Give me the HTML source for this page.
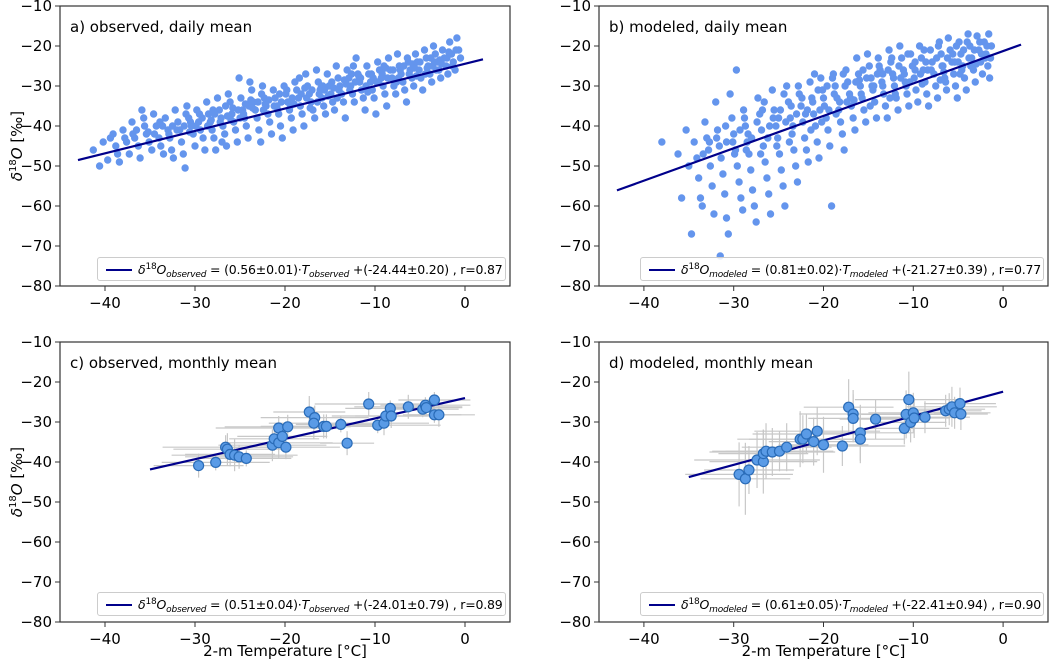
<!DOCTYPE html>
<html><head><meta charset="utf-8">
<style>
body{margin:0;background:#fff;width:1052px;height:663px;overflow:hidden;font-family:"DejaVu Sans","Liberation Sans",sans-serif}
#wrap{position:relative;width:1052px;height:663px}
svg{position:absolute;left:0;top:0;font-family:"DejaVu Sans","Liberation Sans",sans-serif}
.leg{position:absolute;height:24px;border:1px solid #ccc;border-radius:3px;background:rgba(255,255,255,0.85);font-size:12.5px;line-height:24px;white-space:nowrap;color:#000;box-sizing:border-box;padding-left:40px;font-family:"DejaVu Sans",sans-serif;letter-spacing:-0.2px}
.leg .ln{position:absolute;left:8px;top:11px;width:26px;height:2px;background:#00008b}
.leg i{font-family:"DejaVu Sans",sans-serif}
.leg sub{font-size:9px;font-style:italic;vertical-align:-3px;line-height:0}
.leg sup{font-size:9px;vertical-align:5px;line-height:0}
</style></head><body>
<div id="wrap">
<svg id="svg" width="1052" height="663"></svg>
<div class="leg" style="left:97px;top:257px;width:409px"><span class="ln"></span><i>δ</i><sup>18</sup><i>O</i><sub>observed</sub> = (0.56±0.01)·<i>T</i><sub>observed</sub> +(-24.44±0.20) , r=0.87</div>
<div class="leg" style="left:640px;top:257px;width:404px"><span class="ln"></span><i>δ</i><sup>18</sup><i>O</i><sub>modeled</sub> = (0.81±0.02)·<i>T</i><sub>modeled</sub> +(-21.27±0.39) , r=0.77</div>
<div class="leg" style="left:97px;top:592px;width:409px"><span class="ln"></span><i>δ</i><sup>18</sup><i>O</i><sub>observed</sub> = (0.51±0.04)·<i>T</i><sub>observed</sub> +(-24.01±0.79) , r=0.89</div>
<div class="leg" style="left:640px;top:592px;width:404px"><span class="ln"></span><i>δ</i><sup>18</sup><i>O</i><sub>modeled</sub> = (0.61±0.05)·<i>T</i><sub>modeled</sub> +(-22.41±0.94) , r=0.90</div>
</div>
<script>
const xTicks=[-40,-30,-20,-10,0];
const yTicks=[-10,-20,-30,-40,-50,-60,-70,-80];
const titles=["a) observed, daily mean","b) modeled, daily mean","c) observed, monthly mean","d) modeled, monthly mean"];
const fitSlope=[0.56,0.81,0.51,0.61];
const fitIntercept=[-24.44,-21.27,-24.01,-22.41];
const fitRangeDaily=[-43,2];
const fitRangeMonthly=[-35,0];
// daily observed [T, d18O]
const dailyObs=[[-41.3,-46],[-40.6,-50],[-40.2,-44],[-39.7,-48.5],[-39.1,-42],[-38.8,-45],[-38.4,-49],[-38,-41],[-37.6,-44],[-37.3,-47],[-37,-39],[-36.7,-43],[-36.3,-45],[-36.1,-48],[-35.9,-36],[-35.6,-40],[-35.4,-42],[-35.1,-44],[-34.8,-46],[-34.6,-37],[-34.3,-40],[-34,-43],[-33.8,-45],[-33.5,-47],[-33.3,-38],[-33,-41],[-32.8,-43],[-32.6,-46],[-32.4,-48],[-32.2,-36],[-31.9,-39],[-31.7,-41],[-31.5,-44],[-31.3,-47],[-31.1,-50.5],[-30.9,-35],[-30.7,-38],[-30.4,-40],[-30.2,-42],[-30,-45],[-29.8,-36],[-29.6,-39],[-29.4,-41],[-29.1,-43],[-28.9,-46],[-28.7,-34],[-28.5,-37],[-28.3,-39],[-28.1,-41],[-27.9,-43],[-27.7,-46],[-27.5,-33],[-27.3,-36],[-27.1,-38],[-26.9,-40],[-26.7,-42],[-26.5,-45],[-26.3,-32],[-26.1,-34],[-25.9,-37],[-25.7,-39],[-25.5,-41],[-25.3,-44],[-25.1,-28],[-24.9,-33],[-24.7,-36],[-24.5,-38],[-24.3,-40],[-24.1,-43],[-23.9,-29],[-23.7,-31],[-23.5,-34],[-23.3,-36],[-23.1,-38],[-22.9,-41],[-22.7,-44],[-22.5,-30],[-22.3,-33],[-22.1,-35],[-21.9,-37],[-21.7,-39],[-21.5,-42],[-21.3,-31],[-21.1,-33],[-20.9,-35],[-20.7,-37],[-20.5,-40],[-20.3,-43],[-20.1,-30],[-19.9,-32],[-19.7,-34],[-19.5,-36],[-19.3,-38],[-19.1,-41],[-18.9,-29],[-18.7,-31],[-18.5,-33],[-18.3,-35],[-18.1,-37],[-17.9,-40],[-17.7,-27],[-17.5,-30],[-17.3,-32],[-17.1,-34],[-16.9,-36],[-16.7,-38],[-16.5,-26],[-16.3,-29],[-16.1,-31],[-15.9,-33],[-15.7,-35],[-15.5,-37],[-15.3,-27],[-15.1,-30],[-14.9,-32],[-14.7,-34],[-14.5,-36],[-14.3,-25],[-14.1,-28],[-13.9,-30],[-13.7,-32],[-13.5,-34],[-13.3,-38],[-13.1,-26],[-12.9,-28],[-12.7,-30],[-12.5,-32],[-12.3,-34],[-12.1,-23],[-11.9,-27],[-11.7,-29],[-11.5,-31],[-11.3,-33],[-11.1,-36],[-10.9,-25],[-10.7,-27],[-10.5,-29],[-10.3,-31],[-10.1,-33],[-9.9,-37],[-9.7,-24],[-9.5,-26],[-9.3,-28],[-9.1,-30],[-8.9,-32],[-8.7,-35],[-8.5,-23],[-8.3,-26],[-8.1,-28],[-7.9,-30],[-7.7,-32],[-7.5,-22],[-7.3,-25],[-7.1,-27],[-6.9,-29],[-6.7,-31],[-6.5,-34],[-6.3,-24],[-6.1,-26],[-5.9,-28],[-5.7,-30],[-5.5,-22],[-5.3,-24],[-5.1,-26],[-4.9,-28],[-4.7,-31],[-4.5,-21],[-4.3,-23],[-4.1,-25],[-3.9,-27],[-3.7,-29],[-3.5,-20],[-3.3,-22],[-3.1,-24],[-2.9,-26],[-2.7,-28],[-2.5,-21],[-2.3,-23],[-2.1,-25],[-1.9,-27],[-1.7,-19],[-1.5,-22],[-1.3,-24],[-1.1,-26],[-0.9,-18],[-0.7,-21],[-0.5,-23],[-29.5,-37],[-26.6,-35],[-23.8,-33.5],[-20.6,-32],[-17.8,-30.5],[-14.8,-29],[-11.8,-27.5],[-8.8,-25.5],[-5.8,-24.5],[-2.8,-23.5],[-32.5,-40],[-28.2,-38.5],[-25.2,-36],[-22.2,-34.5],[-19.2,-33],[-16.2,-32],[-13.2,-29.5],[-10.2,-28],[-7.2,-26],[-4.2,-25.5],[-27,-44],[-18.4,-28],[-12.4,-25],[-6.4,-23],[-36.5,-41],[-31,-37],[-24,-35],[-15.6,-31],[-9.6,-29],[-3.6,-25]];
const dailyObsDense=[[-37.8,-43],[-36.9,-42],[-35.2,-41.5],[-34.5,-42],[-33.6,-40],[-32.9,-42],[-32,-41],[-31.2,-40],[-30.5,-39],[-29.9,-40],[-29.2,-38],[-28.6,-40],[-27.8,-37],[-27.2,-39],[-26.4,-37.5],[-25.8,-35.5],[-25,-38],[-24.4,-34.5],[-23.6,-35.5],[-23,-34],[-22.4,-36],[-21.8,-33.5],[-21.2,-35],[-20.4,-34],[-19.8,-31],[-19,-34.5],[-18.2,-32],[-17.6,-33],[-17,-31],[-16.4,-34],[-15.8,-30],[-15.2,-32.5],[-14.6,-30.5],[-14,-31],[-13.4,-28.5],[-12.8,-31],[-12.2,-29],[-11.6,-28],[-11,-30],[-10.4,-27],[-9.8,-29],[-9.2,-27],[-8.6,-28],[-8,-26],[-7.4,-28],[-6.8,-25],[-6.2,-27],[-5.6,-25.5],[-5,-24],[-4.4,-27],[-3.8,-23],[-3.2,-26],[-2.6,-24.5],[-2,-23],[-1.4,-25],[-1,-21],[-30.6,-41.5],[-28,-36],[-26,-38.5],[-24.6,-37],[-22.6,-32],[-20.8,-36],[-19.4,-35],[-17.2,-35.5],[-16,-30.5],[-14.2,-33],[-12.6,-27],[-10.8,-31.5],[-9,-25],[-7.6,-29],[-5.4,-27.5],[-3.4,-24],[-1.8,-21.5],[-33.9,-39],[-35.7,-38],[-38.6,-47],[-39.4,-43]];
// daily modeled [T, d18O]
const dailyMod=[[-38,-44],[-36.2,-47],[-35.8,-58],[-35.3,-41],[-35,-50],[-34.7,-67],[-34.4,-44],[-34.1,-48],[-33.9,-53],[-33.7,-58],[-33.5,-60],[-33.2,-39],[-33,-43],[-32.8,-46],[-32.6,-50],[-32.4,-55],[-32.2,-62],[-32,-34],[-31.8,-41],[-31.6,-45],[-31.4,-48],[-31.2,-52],[-31,-57],[-30.8,-63],[-30.6,-67],[-31.5,-72.5],[-30.4,-32],[-30.2,-38],[-30,-42],[-29.8,-46],[-29.6,-50],[-29.4,-54],[-29.2,-58],[-29,-61],[-29.7,-26],[-28.9,-36],[-28.7,-40],[-28.5,-44],[-28.3,-47],[-28.1,-51],[-27.9,-56],[-27.7,-60],[-27.5,-64],[-27.3,-33],[-27.1,-37],[-26.9,-41],[-26.7,-45],[-26.5,-49],[-26.3,-53],[-26.1,-57],[-25.9,-62],[-25.7,-31],[-25.5,-36],[-25.3,-40],[-25.1,-43],[-24.9,-47],[-24.7,-51],[-24.5,-55],[-24.3,-60],[-24.1,-30],[-23.9,-34],[-23.7,-38],[-23.5,-42],[-23.3,-46],[-23.1,-50],[-22.9,-54],[-22.7,-32],[-22.5,-35],[-22.3,-39],[-22.1,-43],[-21.9,-46],[-21.7,-49],[-21.5,-29],[-21.3,-33],[-21.1,-37],[-20.9,-40],[-20.7,-44],[-20.5,-48],[-20.3,-28],[-20.1,-31],[-19.9,-35],[-19.7,-38],[-19.5,-41],[-19.3,-45],[-19.1,-60],[-18.9,-27],[-18.7,-30],[-18.5,-33],[-18.3,-36],[-18.1,-39],[-17.9,-42],[-17.7,-46],[-17.5,-26],[-17.3,-29],[-17.1,-32],[-16.9,-35],[-16.7,-38],[-16.5,-41],[-16.3,-23],[-16.1,-27],[-15.9,-30],[-15.7,-33],[-15.5,-36],[-15.3,-39],[-15.1,-22],[-14.9,-25],[-14.7,-28],[-14.5,-31],[-14.3,-34],[-14.1,-38],[-13.9,-23],[-13.7,-26],[-13.5,-29],[-13.3,-32],[-13.1,-35],[-12.9,-38],[-12.7,-21],[-12.5,-24],[-12.3,-27],[-12.1,-30],[-11.9,-33],[-11.7,-36],[-11.5,-20],[-11.3,-23],[-11.1,-26],[-10.9,-29],[-10.7,-32],[-10.5,-35],[-10.3,-22],[-10.1,-25],[-9.9,-28],[-9.7,-31],[-9.5,-34],[-9.3,-20],[-9.1,-23],[-8.9,-26],[-8.7,-29],[-8.5,-32],[-8.3,-35],[-8.1,-21],[-7.9,-24],[-7.7,-27],[-7.5,-30],[-7.3,-33],[-7.1,-19],[-6.9,-22],[-6.7,-25],[-6.5,-28],[-6.3,-31],[-6.1,-18],[-5.9,-21],[-5.7,-24],[-5.5,-27],[-5.3,-30],[-5.1,-33],[-4.9,-19],[-4.7,-22],[-4.5,-25],[-4.3,-28],[-4.1,-31],[-3.9,-17],[-3.7,-20],[-3.5,-23],[-3.3,-26],[-3.1,-29],[-2.9,-17.5],[-2.7,-21],[-2.5,-24],[-2.3,-27],[-2.1,-19],[-1.9,-22],[-1.7,-25],[-1.5,-28],[-1.3,-20],[-1.6,-17],[-26.2,-43],[-23.4,-40],[-20.4,-36],[-17.4,-34],[-14.4,-30],[-11.4,-28],[-8.4,-26],[-5.4,-24],[-2.4,-22],[-28.4,-42],[-19.6,-30],[-13.4,-27],[-6.6,-26.5],[-3.6,-25],[-9.8,-24],[-16,-28.5],[-22,-37],[-25,-38],[-30.8,-44],[-12,-32],[-7,-28.5],[-4.6,-26]];
const dailyModDense=[[-31.9,-43],[-30.9,-40],[-30.1,-44],[-29.3,-41],[-28.8,-38],[-28,-43],[-27.4,-39],[-26.8,-36],[-26,-40],[-25.6,-38],[-24.8,-36],[-24.2,-39],[-23.6,-35],[-23,-37],[-22.4,-33],[-21.8,-36],[-21.2,-34],[-20.6,-31],[-20,-33],[-19.4,-36],[-18.8,-32],[-18.2,-34],[-17.6,-30],[-17,-33],[-16.4,-29],[-15.8,-32],[-15.2,-28],[-14.6,-30],[-14,-27],[-13.4,-30],[-12.8,-26],[-12.2,-28],[-11.6,-25],[-11,-27],[-10.4,-29],[-9.8,-26],[-9.2,-27],[-8.6,-24],[-8,-26],[-7.4,-23],[-6.8,-25],[-6.2,-23],[-5.6,-22],[-5,-24],[-4.4,-21],[-3.8,-23],[-3.2,-21],[-2.6,-19],[-2,-23],[-1.8,-20],[-22.8,-30],[-21,-27],[-19,-28],[-17.8,-27],[-15.6,-26],[-13.8,-25],[-12.4,-23],[-10.6,-22],[-8.8,-21],[-7.2,-20],[-5.2,-20],[-4,-19],[-26.6,-34],[-24.4,-32],[-18.6,-37],[-16.6,-33.5],[-14.8,-35],[-12.6,-33],[-10.8,-30],[-9,-29.5],[-6.4,-29],[-4.8,-27],[-3,-24.5],[-1.4,-23],[-28.6,-46],[-27,-47],[-25.2,-45],[-23.8,-44],[-21.4,-41],[-20.2,-39],[-29.9,-47],[-32.7,-44],[-33.4,-47]];
// monthly observed
const monT=[-29.6,-27.7,-26.6,-26.4,-26.1,-25.6,-25.1,-24.3,-21.4,-21.2,-20.7,-20.7,-20.3,-19.9,-19.7,-17.3,-16.7,-16.8,-15.7,-15.4,-13.8,-13.1,-10.7,-9.7,-9.0,-8.8,-8.3,-8.2,-6.3,-4.7,-4.4,-4.3,-3.4,-3.4,-2.9];
const monD=[-40.9,-40.1,-36.3,-36.8,-38.1,-38.3,-38.7,-39.1,-35.8,-34.2,-31.5,-35.2,-33.6,-36.3,-31.2,-27.5,-28.9,-30.3,-31.1,-31.1,-30.6,-35.3,-25.5,-30.8,-30.3,-28.5,-26.6,-28.5,-26.2,-26.8,-25.8,-26.4,-24.5,-28.2,-28.2];
const monTerr=[5,6,7,6,5,7,6,5,6,5,7,6,5,6,7,4,6,5,7,6,5,3,6,7,5,6,5,4,6,4,5,4,4,3,4];
const monDerr=[3,2,3,4,3,4,3,2,4,3,3,4,3,3,3,4,3,4,3,3,2,3,3,2,3,3,2,3,3,2,2,2,2,2,3];
// monthly modeled
const modT=[-29.4,-28.7,-28.3,-27.4,-26.7,-26.7,-26.4,-25.7,-24.9,-24.1,-22.6,-22.3,-21.9,-21.1,-20.7,-20.0,-17.9,-17.2,-16.7,-16.7,-15.9,-15.9,-14.2,-11.0,-10.8,-10.5,-10.3,-10.0,-9.9,-8.7,-6.4,-6.0,-5.7,-5.4,-4.8,-4.7];
const modD=[-43.1,-44.2,-42.0,-39.5,-39.9,-37.9,-37.3,-37.5,-37.3,-36.3,-34.3,-34.3,-33.0,-34.9,-32.3,-35.7,-36.0,-26.3,-28.0,-29.1,-32.7,-34.3,-29.3,-31.6,-28.1,-24.4,-30.1,-27.7,-29.0,-28.8,-27.2,-26.8,-26.2,-27.7,-25.4,-28.0];
const modTerr=[6,5,5,7,6,5,6,7,6,5,7,6,6,5,7,5,7,5,6,5,6,5,4,5,5,6,4,5,4,5,4,4,5,4,4,3];
const modDerr=[8,9,6,7,8,6,7,6,5,6,7,6,5,6,6,7,5,7,6,6,7,6,5,4,6,7,5,5,5,4,4,4,5,4,4,4];

const NS="http://www.w3.org/2000/svg";
const svg=document.getElementById('svg');
function el(tag,attrs,parent){const e=document.createElementNS(NS,tag);for(const k in attrs)e.setAttribute(k,attrs[k]);(parent||svg).appendChild(e);return e;}
const panels=[{x0:60,x1:510,y0:6,y1:286},{x0:599,x1:1048,y0:6,y1:286},{x0:60,x1:510,y0:342,y1:622},{x0:599,x1:1048,y0:342,y1:622}];
const names=['a','b','c','d'];
panels.forEach((p,i)=>{
  const sx=t=>p.x0+(t+45)/50*(p.x1-p.x0);
  const sy=v=>p.y0+(-10-v)/70*(p.y1-p.y0);
  const g=el('g',{});
  
  
  const clip=el('clipPath',{id:'cl'+i},g);el('rect',{x:p.x0,y:p.y0,width:p.x1-p.x0,height:p.y1-p.y0},clip);
  const data=el('g',{'clip-path':'url(#cl'+i+')'},g);
  if(i<2){
    const pts=i==0?dailyObs.concat(dailyObsDense):dailyMod.concat(dailyModDense);
    pts.forEach(q=>{const c=el('circle',{cx:sx(q[0]),cy:sy(q[1]),r:3.7,fill:'#6495ed'},data);
      
      });
  } else {
    const T=i==2?monT:modT,D=i==2?monD:modD,Te=i==2?monTerr:modTerr,De=i==2?monDerr:modDerr;
    T.forEach((t,k)=>{
      el('line',{x1:sx(t-Te[k]),x2:sx(t+Te[k]),y1:sy(D[k]),y2:sy(D[k]),stroke:'#c8c8c8','stroke-width':1.2},data);
      el('line',{x1:sx(t),x2:sx(t),y1:sy(D[k]-De[k]),y2:sy(D[k]+De[k]),stroke:'#c8c8c8','stroke-width':1.2},data);
    });
  }
  const fr=i<2?fitRangeDaily:fitRangeMonthly;
  const fl=el('line',{x1:sx(fr[0]),y1:sy(fitSlope[i]*fr[0]+fitIntercept[i]),x2:sx(fr[1]),y2:sy(fitSlope[i]*fr[1]+fitIntercept[i]),stroke:'#00008b','stroke-width':2.2},data);
  
  
  if(i>=2){
    const T=i==2?monT:modT,D=i==2?monD:modD;
    T.forEach((t,k)=>{const c=el('circle',{cx:sx(t),cy:sy(D[k]),r:5,fill:'#5a9be6',stroke:'#2a6cb8','stroke-width':1.2},data);
      
      });
  }
  el('rect',{x:p.x0,y:p.y0,width:p.x1-p.x0,height:p.y1-p.y0,fill:'none',stroke:'#333','stroke-width':1.2},g);
  xTicks.forEach(t=>{el('line',{x1:sx(t),x2:sx(t),y1:p.y1,y2:p.y1+5,stroke:'#333'},g);
    const tx=el('text',{x:sx(t),y:p.y1+22,'font-size':15,'text-anchor':'middle'},g);tx.textContent=(t<0?'\u2212':'')+Math.abs(t);
    
    });
  yTicks.forEach(v=>{el('line',{x1:p.x0-5,x2:p.x0,y1:sy(v),y2:sy(v),stroke:'#333'},g);
    const tx=el('text',{x:p.x0-8,y:sy(v)+5,'font-size':15,'text-anchor':'end'},g);tx.textContent='\u2212'+Math.abs(v);
    
    });
  const tt=el('text',{x:p.x0+10,y:p.y0+26,'font-size':15},g);tt.textContent=titles[i];
  
  
  if(i%2==0){
    const yl=el('text',{transform:`translate(22,${(p.y0+p.y1)/2}) rotate(-90)`,'font-size':15,'text-anchor':'middle'},g);
    yl.innerHTML='<tspan font-style="italic">δ</tspan><tspan font-size="10" dy="-6">18</tspan><tspan dy="6" font-style="italic">O</tspan> [‰]';
    
    
  }
  if(i>=2){
    const xl=el('text',{x:(p.x0+p.x1)/2,y:656,'font-size':15,'text-anchor':'middle'},g);xl.textContent='2-m Temperature [°C]';
    
    
  }
});
</script>
</body></html>
